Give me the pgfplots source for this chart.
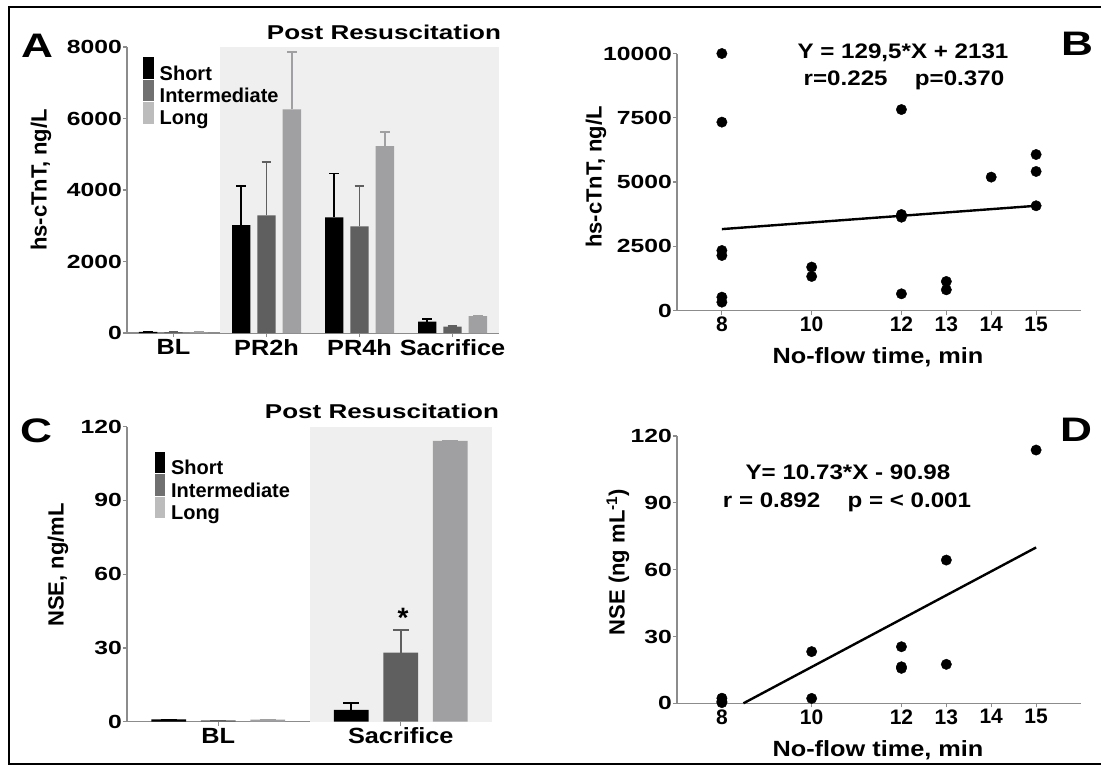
\documentclass[border=0pt]{standalone}
\usepackage{fontspec}
\setmainfont{Liberation Sans}
\newfontfamily\fw{Liberation Sans}[FakeStretch=1.3]
\newfontfamily\fm{Liberation Sans}[FakeStretch=1.15]
\usepackage{pgfplots}
\usepackage{pgfplotstable}
\pgfplotsset{compat=1.18}

\definecolor{axgray}{HTML}{8C8C8C}
\definecolor{bgshade}{HTML}{EFEFEF}
\definecolor{cShort}{HTML}{000000}
\definecolor{cInt}{HTML}{5F5F5F}
\definecolor{cLong}{HTML}{A0A0A3}
\definecolor{lInt}{HTML}{707070}
\definecolor{lLong}{HTML}{BCBCBC}

\newcommand\tickfont{\fw\fontsize{19}{22}\selectfont\bfseries}
\newcommand\catfont{\fm\fontsize{22}{26}\selectfont\bfseries}
\newcommand\sxfont{\fontsize{21}{25}\selectfont\bfseries}
\newcommand\lbfont{\fontsize{22}{26}\selectfont\bfseries}
\newcommand\legfont{\fontsize{20}{24}\selectfont\bfseries}

\pgfplotsset{
  panel/.style={
    scale only axis, axis lines=left, axis line style={-, draw=axgray, line width=1.5pt},
    tick style={draw=axgray, line width=1.2pt}, major tick length=4pt, tick align=outside,
    enlargelimits=false, clip=false, scaled ticks=false,
    /pgf/number format/assume math mode=true, /pgf/number format/1000 sep={},
    yticklabel style={font=\tickfont, inner sep=1pt},
  },
  errs/.style={error bars/.cd, y dir=plus, y explicit,
    error bar style={line width=1.6pt, draw=#1},
    error mark options={rotate=90, mark size=4.8pt, line width=1.6pt, draw=#1}},
  errc/.style={error bars/.cd, y dir=plus, y explicit,
    error bar style={line width=1.8pt, draw=#1},
    error mark options={rotate=90, mark size=7.8pt, line width=1.8pt, draw=#1}},
  sw/.style={legend image code/.code={\fill[fill=#1] (0pt,-5pt) rectangle (10.5pt,16.5pt);}},
  legbox/.style={legend style={draw=none, fill=none, at={#1}, anchor=north west,
    font=\legfont, row sep=-3pt, inner sep=0pt, nodes={inner sep=1pt}},
    legend cell align=left},
}

% hs-cTnT by group (mean, SEM)
\pgfplotstableread{
x  s     se    i     ie    l     le
0  30    0     25    0     20    0
1  3020  1100  3290  1485  6257  1595
2  3236  1231  2984  1136  5230  400
3  316   74    177   23    475   0
}\tA
% NSE by group
\pgfplotstableread{
x  s    se   i     ie   l      le
0  0.9  0    0.5   0    0.8    0
1  4.8  2.9  28.1  9.2  114.2  0
}\tC
\pgfplotstableread{
t   v
8   10000
8   7330
8   2335
8   2140
8   520
8   325
10  1690
10  1325
12  7820
12  3735
12  3630
12  650
13  1130
13  805
14  5190
15  6070
15  5410
15  4075
}\tB
\pgfplotstableread{
t   v
8   2.3
8   0.9
8   0.3
10  23.2
10  2.2
12  25.4
12  16.4
12  15.7
13  64.3
13  17.5
15  113.7
}\tD

\begin{document}
\begin{tikzpicture}[x=1pt,y=1pt]
\useasboundingbox (0,0) rectangle (1101,-766);
\draw[line width=2.5pt] (9,-7) rectangle (1120,-764);

% ---------- A ----------
\begin{axis}[panel, at={(127pt,-333pt)}, anchor=south west, width=372pt, height=286pt,
  ybar=6.9pt, bar width=18.4pt,
  xmin=-0.5, xmax=3.5, ymin=0, ymax=8000,
  xtick={0,1,2,3}, xticklabels={BL,PR2h,PR4h,Sacrifice},
  xticklabel style={font=\catfont, inner sep=2pt},
  ytick={0,2000,4000,6000,8000},
  legbox={(axis description cs:0.043,0.965)}]
\fill[bgshade] (axis cs:0.5,0) rectangle (axis cs:3.5,8000);
\addplot[fill=cShort, draw=none, sw=cShort, errs=cShort] table[x=x, y=s, y error=se] {\tA};
\addplot[fill=cInt, draw=none, sw=lInt, errs=cInt] table[x=x, y=i, y error=ie] {\tA};
\addplot[fill=cLong, draw=none, sw=lLong, errs=cLong] table[x=x, y=l, y error=le] {\tA};
\legend{\hspace{5pt}Short, \hspace{5pt}Intermediate, \hspace{5pt}Long}
\end{axis}

% ---------- C ----------
\begin{axis}[panel, at={(127pt,-721.7pt)}, anchor=south west, width=365pt, height=295pt,
  ybar=14.8pt, bar width=34.7pt,
  xmin=-0.5, xmax=1.5, ymin=0, ymax=120,
  xtick={0,1}, xticklabels={BL,Sacrifice},
  xticklabel style={font=\catfont, inner sep=2pt},
  ytick={0,30,60,90,120},
  legbox={(axis description cs:0.075,0.915)}]
\fill[bgshade] (axis cs:0.5,0) rectangle (axis cs:1.5,120);
\addplot[fill=cShort, draw=none, sw=cShort, errc=cShort] table[x=x, y=s, y error=se] {\tC};
\addplot[fill=cInt, draw=none, sw=lInt, errc=cInt] table[x=x, y=i, y error=ie] {\tC};
\addplot[fill=cLong, draw=none, sw=lLong, errc=cLong] table[x=x, y=l, y error=le] {\tC};
\legend{\hspace{5pt}Short, \hspace{5pt}Intermediate, \hspace{5pt}Long}
\end{axis}

% ---------- B ----------
\begin{axis}[panel, at={(677pt,-310.5pt)}, anchor=south west, width=404pt, height=257pt,
  xmin=7, xmax=16, ymin=0, ymax=10000,
  xtick={8,10,12,13,14,15}, xticklabel style={font=\sxfont, inner sep=2pt},
  ytick={0,2500,5000,7500,10000}]
\addplot[only marks, mark=*, mark size=5.2pt, black] table[x=t, y=v] {\tB};
\addplot[black, line width=2.4pt, no marks] coordinates {(8,3167) (15,4074)};
\end{axis}

% ---------- D ----------
\begin{axis}[panel, at={(677pt,-703.3pt)}, anchor=south west, width=404pt, height=267.3pt,
  xmin=7, xmax=16, ymin=0, ymax=120,
  xtick={8,10,12,13,14,15}, xticklabel style={font=\sxfont, inner sep=2pt},
  ytick={0,30,60,90,120}]
\addplot[only marks, mark=*, mark size=5.2pt, black] table[x=t, y=v] {\tD};
\addplot[black, line width=2.4pt, no marks] coordinates {(8.48,0) (15,69.97)};
\end{axis}

% ---------- texts ----------
\node[font=\fw\fontsize{34}{34}\selectfont\bfseries] at (37,-46) {A};
\node[font=\fw\fontsize{34}{34}\selectfont\bfseries] at (1077,-44) {B};
\node[font=\fw\fontsize{34}{34}\selectfont\bfseries] at (36,-431) {C};
\node[font=\fw\fontsize{34}{34}\selectfont\bfseries] at (1076,-430) {D};
\node[font=\fw\fontsize{20}{24}\selectfont\bfseries] at (384,-32) {Post Resuscitation};
\node[font=\fw\fontsize{20}{24}\selectfont\bfseries] at (382,-411.7) {Post Resuscitation};
\node[font=\lbfont, rotate=90] at (41,-180) {hs-cTnT, ng/L};
\node[font=\lbfont, rotate=90] at (596,-177) {hs-cTnT, ng/L};
\node[font=\lbfont, rotate=90] at (58,-565) {NSE, ng/mL};
\node[font=\lbfont, rotate=90] at (618,-562) {NSE (ng mL\textsuperscript{-1})};
\node[font=\fm\fontsize{22}{26}\selectfont\bfseries] at (878,-357) {No-flow time, min};
\node[font=\fm\fontsize{22}{26}\selectfont\bfseries] at (878,-750) {No-flow time, min};
\node[font=\fm\fontsize{21}{25}\selectfont\bfseries] at (903,-53) {Y = 129,5*X + 2131};
\node[font=\fm\fontsize{21}{25}\selectfont\bfseries] at (904,-80) {r=0.225\hspace{1.3em}p=0.370};
\node[font=\fm\fontsize{21}{25}\selectfont\bfseries] at (848,-472) {Y= 10.73*X - 90.98};
\node[font=\fm\fontsize{21}{25}\selectfont\bfseries] at (847,-502) {r = 0.892\hspace{1.3em}p = < 0.001};
\node[font=\fontsize{28}{28}\selectfont\bfseries] at (403,-618) {*};
\end{tikzpicture}
\end{document}
